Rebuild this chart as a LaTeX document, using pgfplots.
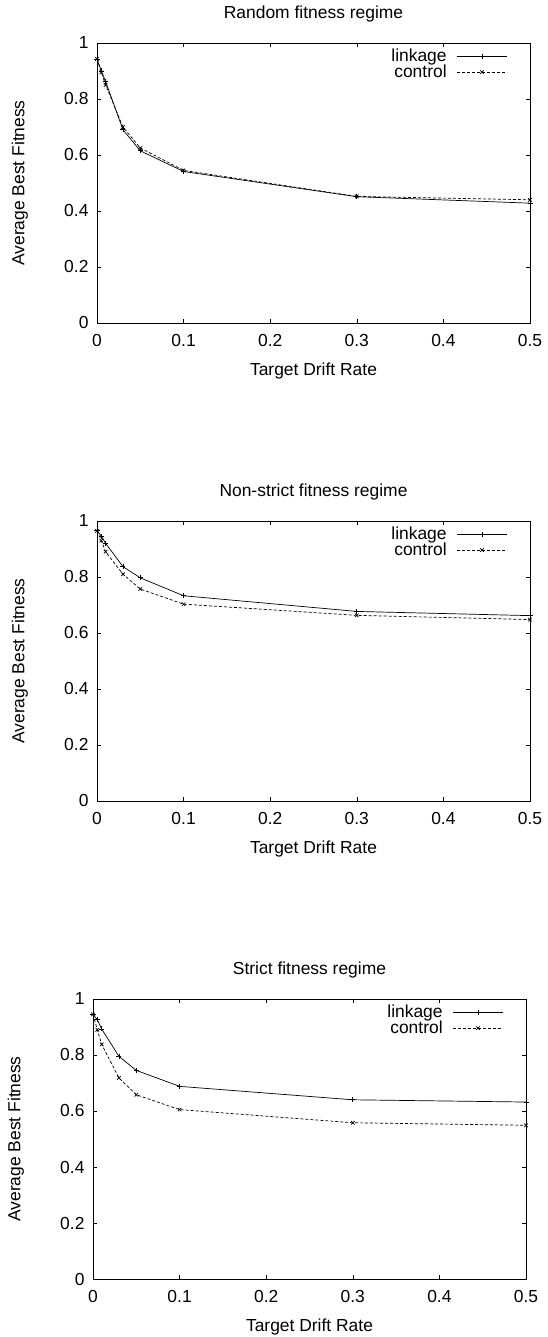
\documentclass[border=0pt]{standalone}
\usepackage{fontspec}
\setmainfont{Liberation Sans}
\usepackage{pgfplots}
\pgfplotsset{compat=1.18}

\pgfplotsset{
  gp/.style={
    scale only axis, width=433bp, height=280bp,
    xmin=0, xmax=0.5, ymin=0, ymax=1,
    xtick={0,0.1,...,0.5}, ytick={0,0.2,...,1},
    tick align=inside, major tick length=4bp,
    axis line style={line width=0.8bp}, tick style={line width=0.6bp, black},
    /pgf/number format/assume math mode=true,
    xticklabel style={yshift=-8bp},
    yticklabel style={xshift=-5bp},
    xlabel={Target Drift Rate}, ylabel={Average Best Fitness},
    xlabel style={at={(axis description cs:0.5,-0.171)}, anchor=center},
    ylabel style={at={(axis description cs:-0.178,0.5)}, anchor=center},
    title style={at={(axis description cs:0.5,1.082)}, anchor=center},
    legend cell align=right, legend plot pos=right,
    legend style={draw=none, fill=none, at={(axis description cs:0.955,0.99)},
      anchor=north east, nodes={inner sep=1bp}, column sep=9bp},
    legend image code/.code={\draw[mark repeat=2,mark phase=2,#1]
      plot coordinates {(0bp,0bp)(25bp,0bp)(50bp,0bp)};},
  },
  lnk/.style={black, line width=0.7bp, mark=+, mark size=2.5bp, mark options={solid}},
  ctl/.style={black, line width=0.7bp, dash pattern=on 3bp off 2bp, mark=x, mark size=2.5bp, mark options={solid}},
}

\begin{document}
\begin{tikzpicture}[font=\fontsize{17.5}{20}\selectfont]
\useasboundingbox (0,0) rectangle (548bp,1337bp);

\begin{axis}[gp, at={(97bp,1014bp)}, anchor=south west, title={Random fitness regime}]
\addplot[lnk] coordinates {(0,0.943)(0.005,0.900)(0.01,0.862)(0.03,0.690)(0.05,0.615)(0.1,0.541)(0.3,0.451)(0.5,0.428)};
\addplot[ctl] coordinates {(0,0.943)(0.005,0.895)(0.01,0.850)(0.03,0.700)(0.05,0.625)(0.1,0.545)(0.3,0.452)(0.5,0.440)};
\legend{linkage,control}
\end{axis}

\begin{axis}[gp, at={(97bp,536bp)}, anchor=south west, title={Non-strict fitness regime}]
\addplot[lnk] coordinates {(0,0.965)(0.005,0.946)(0.01,0.920)(0.03,0.837)(0.05,0.797)(0.1,0.733)(0.3,0.677)(0.5,0.662)};
\addplot[ctl] coordinates {(0,0.965)(0.005,0.930)(0.01,0.890)(0.03,0.810)(0.05,0.757)(0.1,0.703)(0.3,0.663)(0.5,0.648)};
\legend{linkage,control}
\end{axis}

\begin{axis}[gp, at={(93bp,58bp)}, anchor=south west, title={Strict fitness regime}]
\addplot[lnk] coordinates {(0,0.945)(0.005,0.926)(0.01,0.893)(0.03,0.795)(0.05,0.745)(0.1,0.688)(0.3,0.640)(0.5,0.632)};
\addplot[ctl] coordinates {(0,0.945)(0.005,0.890)(0.01,0.838)(0.03,0.718)(0.05,0.658)(0.1,0.605)(0.3,0.558)(0.5,0.549)};
\legend{linkage,control}
\end{axis}
\end{tikzpicture}
\end{document}
